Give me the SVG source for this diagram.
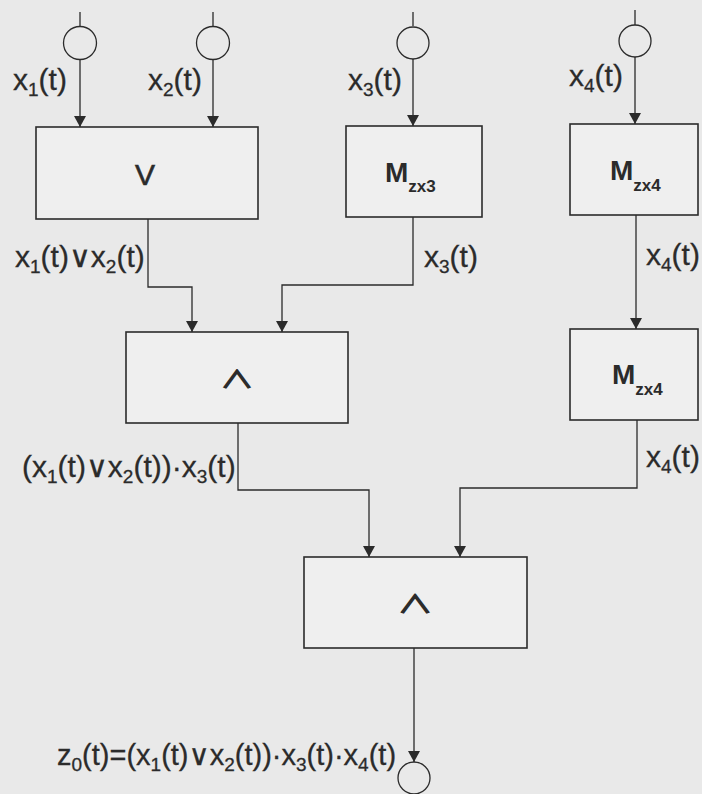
<svg xmlns="http://www.w3.org/2000/svg" width="702" height="794" viewBox="0 0 702 794">
<defs>
<marker id="arr" viewBox="0 0 11 12" markerWidth="11" markerHeight="12" refX="11" refY="6" orient="auto" markerUnits="userSpaceOnUse">
<path d="M0,0 L11,6 L0,12 z" fill="#2b2b2b"/>
</marker>
<style>
.lbl{font-family:"Liberation Sans","DejaVu Sans",sans-serif;font-size:30px;fill:#2b2b2b;stroke:#2b2b2b;stroke-width:0.3}
.sub{font-size:19px}
.box{fill:#efefef;stroke:#2b2b2b;stroke-width:1.6}
.wire{fill:none;stroke:#2b2b2b;stroke-width:1.3}
.term{fill:none;stroke:#2b2b2b;stroke-width:1.3}
.sym{font-family:"Liberation Sans","DejaVu Sans",sans-serif;font-size:30px;fill:#2b2b2b;stroke:#2b2b2b;stroke-width:0.6;text-anchor:middle}
.and{font-family:"Noto Sans CJK JP","DejaVu Sans",sans-serif;font-size:34px;fill:#2b2b2b;stroke:#2b2b2b;stroke-width:1.4;text-anchor:middle}
.mb{font-family:"Liberation Sans",sans-serif;font-weight:bold;font-size:28px;fill:#2b2b2b}
.ms{font-size:17px}
</style>
</defs>
<rect width="702" height="794" fill="#e9e9e9"/>

<g id="connectors">
<path class="wire" d="M80,12 V26"/>
<path class="wire" d="M80,59 V127" marker-end="url(#arr)"/>
<path class="wire" d="M213,12 V26"/>
<path class="wire" d="M213,59 V127" marker-end="url(#arr)"/>
<path class="wire" d="M413,12 V26"/>
<path class="wire" d="M413,59 V126" marker-end="url(#arr)"/>
<path class="wire" d="M635,10 V25"/>
<path class="wire" d="M635,57 V124" marker-end="url(#arr)"/>
<path class="wire" d="M148,219 V287 H192 V332" marker-end="url(#arr)"/>
<path class="wire" d="M413,217 V285 H282 V332" marker-end="url(#arr)"/>
<path class="wire" d="M636,215 V329" marker-end="url(#arr)"/>
<path class="wire" d="M238,423 V490 H369 V557" marker-end="url(#arr)"/>
<path class="wire" d="M637,420 V488 H460 V557" marker-end="url(#arr)"/>
<path class="wire" d="M414,648 V762" marker-end="url(#arr)"/>
</g>

<g id="in1"><circle class="term" cx="80" cy="43" r="16.5"/></g>
<g id="in2"><circle class="term" cx="213" cy="43" r="16.5"/></g>
<g id="in3"><circle class="term" cx="413" cy="43" r="16"/></g>
<g id="in4"><circle class="term" cx="635" cy="41" r="16"/></g>
<g id="out"><circle class="term" cx="414" cy="778" r="16"/></g>

<g id="or1">
<rect class="box" x="36" y="127" width="222" height="92"/>
<text class="sym" x="145" y="185">V</text>
</g>
<g id="mzx3">
<rect class="box" x="346" y="126" width="136" height="91"/>
<text class="mb" x="385" y="182">M<tspan class="ms" dy="10">zx3</tspan></text>
</g>
<g id="mzx4a">
<rect class="box" x="570" y="124" width="128" height="91"/>
<text class="mb" x="610" y="180">M<tspan class="ms" dy="11">zx4</tspan></text>
</g>
<g id="and1">
<rect class="box" x="126" y="332" width="222" height="91"/>
<text class="and" transform="translate(237,388) scale(1,0.7)">∧</text>
</g>
<g id="mzx4b">
<rect class="box" x="570" y="329" width="128" height="91"/>
<text class="mb" x="612" y="384">M<tspan class="ms" dy="11">zx4</tspan></text>
</g>
<g id="and2">
<rect class="box" x="304" y="557" width="223" height="91"/>
<text class="and" transform="translate(415,613) scale(1.05,0.72)">∧</text>
</g>

<g id="labels">
<text class="lbl" x="13" y="90">x<tspan class="sub" dy="6">1</tspan><tspan dy="-6">(t)</tspan></text>
<text class="lbl" x="148" y="90">x<tspan class="sub" dy="6">2</tspan><tspan dy="-6">(t)</tspan></text>
<text class="lbl" x="348" y="90">x<tspan class="sub" dy="6">3</tspan><tspan dy="-6">(t)</tspan></text>
<text class="lbl" x="569" y="86">x<tspan class="sub" dy="6">4</tspan><tspan dy="-6">(t)</tspan></text>
<text class="lbl" x="15" y="267">x<tspan class="sub" dy="6">1</tspan><tspan dy="-6">(t)∨x</tspan><tspan class="sub" dy="6">2</tspan><tspan dy="-6">(t)</tspan></text>
<text class="lbl" x="424" y="267">x<tspan class="sub" dy="6">3</tspan><tspan dy="-6">(t)</tspan></text>
<text class="lbl" x="646" y="265">x<tspan class="sub" dy="6">4</tspan><tspan dy="-6">(t)</tspan></text>
<text class="lbl" x="22" y="477">(x<tspan class="sub" dy="6">1</tspan><tspan dy="-6">(t)∨x</tspan><tspan class="sub" dy="6">2</tspan><tspan dy="-6">(t))·x</tspan><tspan class="sub" dy="6">3</tspan><tspan dy="-6">(t)</tspan></text>
<text class="lbl" x="646" y="467">x<tspan class="sub" dy="6">4</tspan><tspan dy="-6">(t)</tspan></text>
<text class="lbl" x="57" y="765" style="font-size:29px">z<tspan class="sub" dy="6">0</tspan><tspan dy="-6">(t)=(x</tspan><tspan class="sub" dy="6">1</tspan><tspan dy="-6">(t)∨x</tspan><tspan class="sub" dy="6">2</tspan><tspan dy="-6">(t))·x</tspan><tspan class="sub" dy="6">3</tspan><tspan dy="-6">(t)·x</tspan><tspan class="sub" dy="6">4</tspan><tspan dy="-6">(t)</tspan></text>
</g>
</svg>
